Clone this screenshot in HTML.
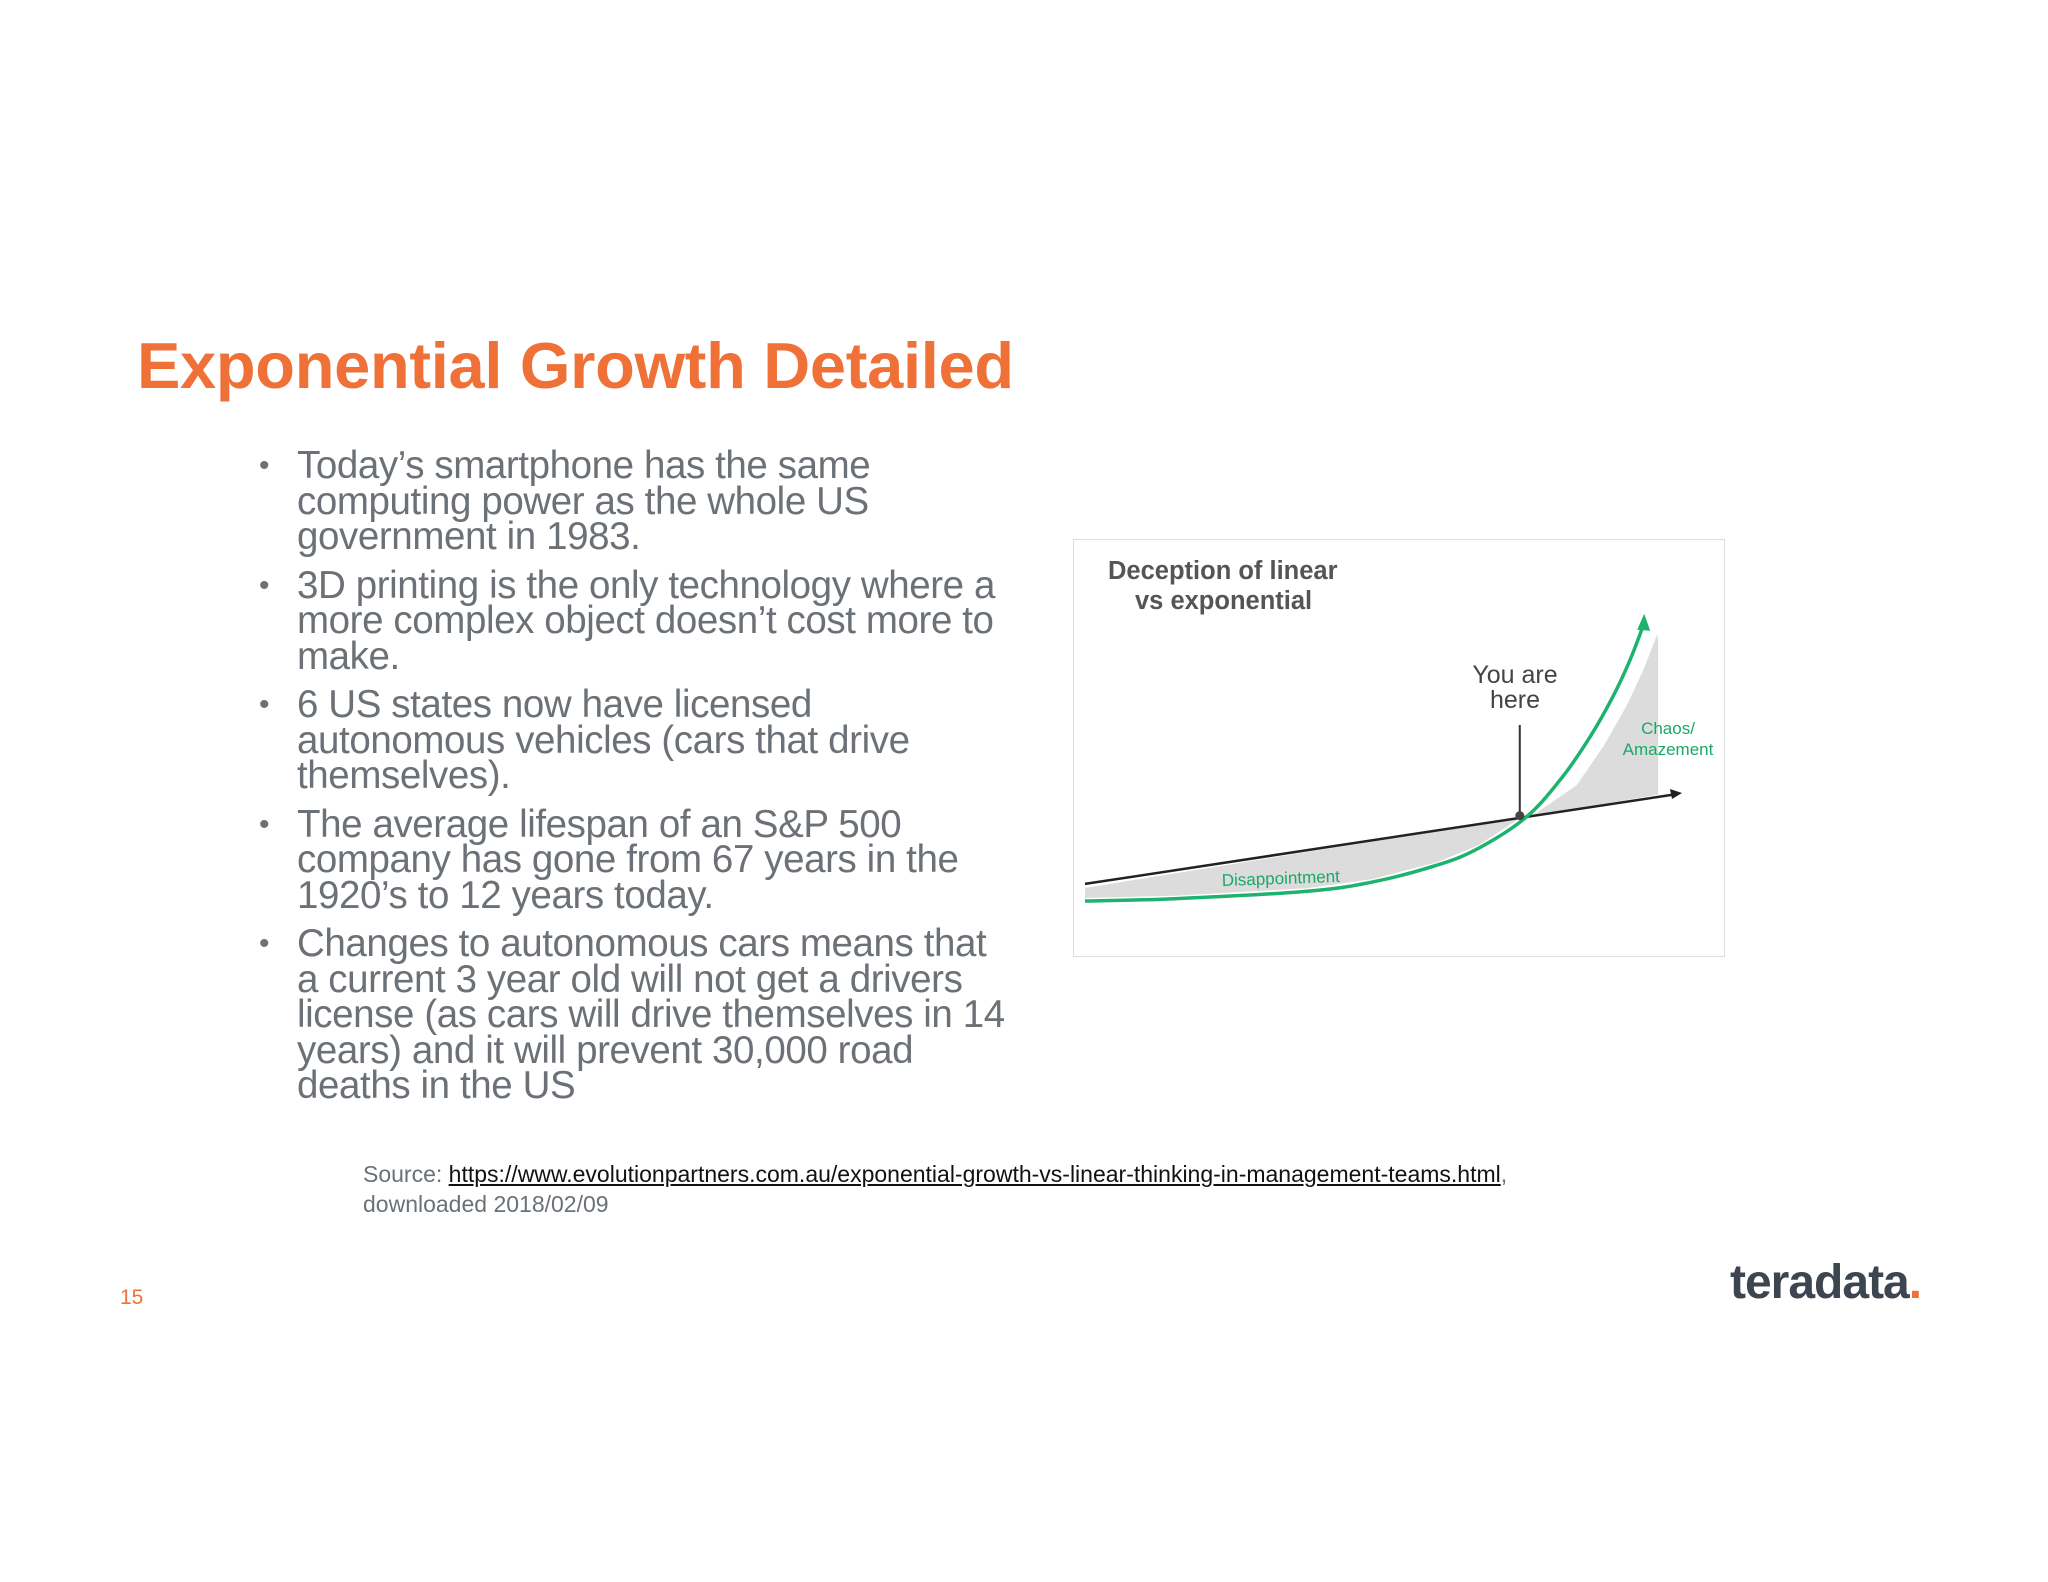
<!DOCTYPE html>
<html><head><meta charset="utf-8"><style>
body{margin:0;width:2048px;height:1582px;background:#fff;font-family:"Liberation Sans",Arial,sans-serif;position:relative;overflow:hidden}
.abs{position:absolute}
#title{left:137px;top:328px;font-size:65px;font-weight:bold;color:#ef7137;white-space:nowrap;letter-spacing:-0.3px}
#bullets{left:255px;top:448px;width:752px;color:#6b7176;font-size:38.5px;line-height:35.5px;margin:0;padding:0;list-style:none}
#bullets li{position:relative;padding-left:42px;margin-bottom:13px;letter-spacing:-0.4px}
#bullets li:before{content:"•";position:absolute;left:4px;top:0;color:#6b7176;font-size:30px}
#source{left:363px;top:1159px;font-size:23px;color:#6b7176;line-height:30px;white-space:nowrap}
#source a{color:#111;text-decoration:underline}
#pnum{left:120px;top:1286px;font-size:21px;color:#ef7137}
#logo{left:1730px;top:1255px;font-size:48px;font-weight:bold;color:#3d4650;letter-spacing:-1px}
</style></head><body>
<div id="title" class="abs">Exponential Growth Detailed</div>
<ul id="bullets" class="abs">
<li>Today’s smartphone has the same computing power as the whole US government in 1983.</li>
<li>3D printing is the only technology where a more complex object doesn’t cost more to make.</li>
<li>6 US states now have licensed autonomous vehicles (cars that drive themselves).</li>
<li>The average lifespan of an S&amp;P 500 company has gone from 67 years in the 1920’s to 12 years today.</li>
<li>Changes to autonomous cars means that a current 3 year old will not get a drivers license (as cars will drive themselves in 14 years) and it will prevent 30,000 road deaths in the US</li>
</ul>
<svg class="abs" style="left:0;top:0" width="2048" height="1582">
<rect x="1073.5" y="539.5" width="651" height="417" fill="#fff" stroke="#ddd"/>
<text x="1108" y="579" font-size="25.5" font-weight="bold" fill="#555">Deception of linear</text>
<text x="1135" y="609" font-size="25.5" font-weight="bold" fill="#555">vs exponential</text>
<g id="plot"></g>
<text x="1515" y="683" font-size="25" fill="#444" text-anchor="middle">You are</text>
<text x="1515" y="708" font-size="25" fill="#444" text-anchor="middle">here</text>
<text x="1668" y="734" font-size="17" fill="#1aa86a" text-anchor="middle">Chaos/</text>
<text x="1668" y="755" font-size="17" fill="#1aa86a" text-anchor="middle">Amazement</text>
<text x="1281" y="884" font-size="17" fill="#1aa86a" text-anchor="middle" transform="rotate(-2 1281 884)">Disappointment</text>
</svg>
<div id="source" class="abs">Source: <a>https://www.evolutionpartners.com.au/exponential-growth-vs-linear-thinking-in-management-teams.html</a>,<br>downloaded 2018/02/09</div>
<div id="pnum" class="abs">15</div>
<div id="logo" class="abs">teradata<span style="color:#ef7137">.</span></div>
<script>
const expX=[0,15,37,48,59,66,74,80,84.6,88.4,91.3,93.5];
const expY=[1.4,2.2,4.8,8,14,20,31,45,59,73,86,98];
const linX=[0,100];
const linY=[7.4,39.3];
const hereX=[74];
const NS="http://www.w3.org/2000/svg";
const sx=v=>1085+v*5.97, sy=v=>905-v*2.85;
const g=document.getElementById('plot');
function mk(t,a){const e=document.createElementNS(NS,t);for(const k in a)e.setAttribute(k,a[k]);g.appendChild(e);return e;}
const lin=x=>linY[0]+(linY[1]-linY[0])*(x-linX[0])/(linX[1]-linX[0]);
const P=expX.map((x,i)=>[sx(x),sy(expY[i])]);
function smooth(p){let d='M'+p[0][0]+','+p[0][1];for(let i=0;i<p.length-1;i++){const a=p[i-1]||p[i],b=p[i],c=p[i+1],e=p[i+2]||c;d+=` C${b[0]+(c[0]-a[0])/6},${b[1]+(c[1]-a[1])/6} ${c[0]-(e[0]-b[0])/6},${c[1]-(e[1]-b[1])/6} ${c[0]},${c[1]}`;}return d;}
// left shading
let pts=[];for(let i=0;i<expX.length&&expX[i]<=hereX[0];i++)pts.push(sx(expX[i])+','+(sy(expY[i])-3));
pts.push(sx(hereX[0])+','+sy(lin(hereX[0])));pts.push(sx(0)+','+(sy(lin(0))+4));
let e=mk('polygon',{points:pts.join(' '),fill:'#dcdcdc'});


// right shading
let rp=[(sx(hereX[0])+4)+','+sy(lin(hereX[0]))];
for(let i=0;i<expX.length;i++)if(expX[i]>hereX[0])rp.push((sx(expX[i])+14)+','+sy(expY[i]-3));
rp.push(sx(96)+','+sy(93));rp.push(sx(96)+','+(sy(lin(96))-2));
e=mk('polygon',{points:rp.join(' '),fill:'#dcdcdc'});


// linear line
e=mk('line',{x1:sx(linX[0]),y1:sy(linY[0]),x2:sx(linX[1])-8,y2:sy(linY[1])+1.5,stroke:'#222','stroke-width':2.5});


e=mk('polygon',{points:`${sx(100)},${sy(linY[1])} ${sx(100)-12},${sy(linY[1])-4} ${sx(100)-10},${sy(linY[1])+6}`,fill:'#222'});


// exponential curve
e=mk('path',{d:smooth(P),fill:'none',stroke:'#1db36f','stroke-width':3.5});


const tx=sx(expX[expX.length-1]),ty=sy(expY[expY.length-1]);
e=mk('polygon',{points:`${tx+1},${ty-12} ${tx-6},${ty+4} ${tx+7},${ty+5}`,fill:'#1db36f'});


// you are here marker
const hx=sx(hereX[0])-7,hy=sy(lin(hereX[0]))-1;
e=mk('line',{x1:hx,y1:725,x2:hx,y2:hy,stroke:'#333','stroke-width':2});


e=mk('circle',{cx:hx,cy:hy,r:4.5,fill:'#444'});


</script>
</body></html>
